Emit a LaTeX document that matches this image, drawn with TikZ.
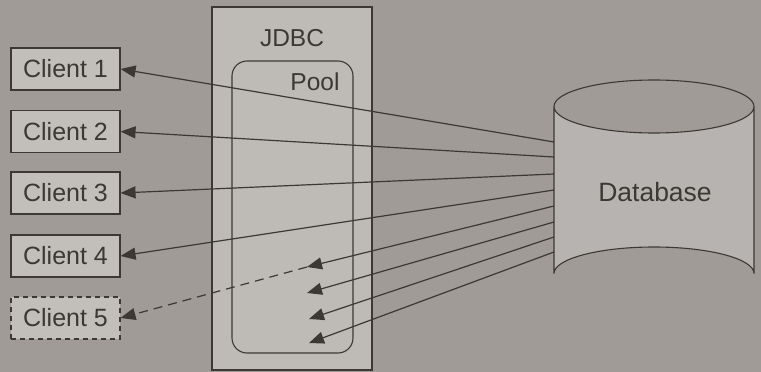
\documentclass[tikz,border=0pt]{standalone}
\usepackage{fontspec}
\setmainfont{Liberation Sans}
\usetikzlibrary{arrows.meta}
\definecolor{paper}{RGB}{160,155,150}
\definecolor{boxfill}{RGB}{194,190,185}
\definecolor{jdbcfill}{RGB}{190,186,181}
\definecolor{dbfill}{RGB}{182,179,176}
\definecolor{ink}{RGB}{60,56,52}
\tikzset{
  client/.style={draw=ink, line width=1.1pt, fill=boxfill, minimum width=109pt,
    minimum height=42pt, inner sep=0pt, text=ink, font=\fontsize{25}{29}\selectfont},
  conn/.style={draw=ink, line width=1.2pt, -{Triangle[length=15pt,width=12pt]}},
  lbl/.style={text=ink, inner sep=0pt, font=\fontsize{24.5}{29}\selectfont}
}
\begin{document}
\begin{tikzpicture}[x=1pt,y=-1pt]
\useasboundingbox (0,0) rectangle (761,372);
\fill[paper] (0,0) rectangle (761,372);

% JDBC container and the connection pool inside it
\draw[ink, line width=1.1pt, fill=jdbcfill] (212,7) rectangle (372,370);
\node[lbl] (jdbc) at (292,38) {JDBC};
\draw[ink, line width=1.1pt, rounded corners=15pt] (232,61) rectangle (353,353);
\node[lbl] (pool) at (315,82) {Pool};

% Clients
\node[client] (c1) at (65.5,69) {Client 1};
\node[client] (c2) at (65.5,131.5) {Client 2};
\node[client] (c3) at (65.5,193) {Client 3};
\node[client] (c4) at (65.5,256) {Client 4};
\node[client, dash pattern=on 5pt off 4pt] (c5) at (65.5,318) {Client 5};

% Database cylinder
\filldraw[ink, line width=1.1pt, fill=dbfill]
  (554,106.5) -- (554,273.5) arc[start angle=180, end angle=360, x radius=100, y radius=26.5]
  -- (754,106.5) arc[start angle=0, end angle=180, x radius=100, y radius=26.5] -- cycle;
\draw[ink, line width=1.1pt] (554,106.5) arc[start angle=180, end angle=360, x radius=100, y radius=26.5];
\node[lbl, font=\fontsize{26.5}{31}\selectfont] (db) at (655,192) {Database};

% Connection end points on the database side
\coordinate (d1) at (554,142);
\coordinate (d2) at (554,157);
\coordinate (d3) at (554,174);
\coordinate (d4) at (554,190);
\coordinate (d5) at (554,206);
\coordinate (d6) at (554,222);
\coordinate (d7) at (554,237);
\coordinate (d8) at (554,252);
% Idle connections held in the pool
\coordinate (p1) at (307,267);
\coordinate (p2) at (307,293);
\coordinate (p3) at (309,319);
\coordinate (p4) at (309,343);

% Connections in use by clients
\draw[conn] (d1) -- (c1.east);
\draw[conn] (d2) -- (c2.east);
\draw[conn] (d3) -- (c3.east);
\draw[conn] (d4) -- (c4.east);
% Pooled connections
\draw[conn] (d5) -- (p1);
\draw[conn] (d6) -- (p2);
\draw[conn] (d7) -- (p3);
\draw[conn] (d8) -- (p4);
% Client waiting for a connection
\draw[conn, dash pattern=on 9pt off 6pt] (p1) -- (c5.east);
\end{tikzpicture}
\end{document}
